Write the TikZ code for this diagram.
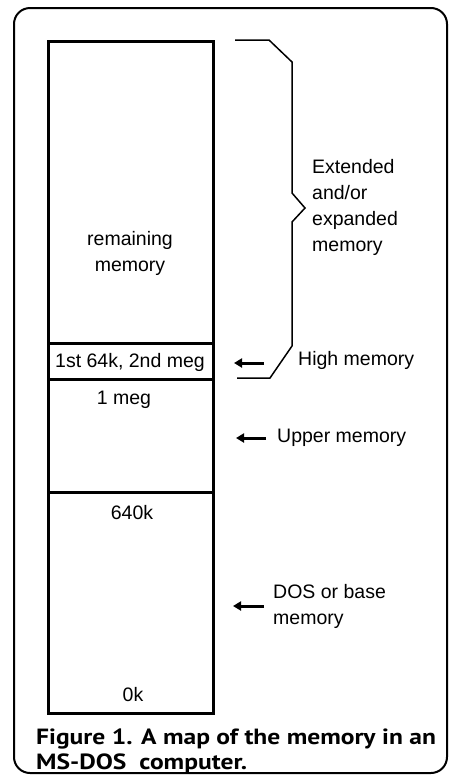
\documentclass[tikz,border=0pt]{standalone}
\usepackage{fontspec}
\setmainfont{Liberation Sans}
\newfontfamily\capfont{PT Sans}
\usetikzlibrary{arrows.meta}
\begin{document}
\begin{tikzpicture}[x=1pt,y=-1pt,
  lbl/.style={font=\fontsize{19.5}{26}\selectfont, inner sep=0pt},
  rlbl/.style={lbl, anchor=west, align=left},
  memline/.style={line width=3pt},
  brace/.style={line width=1.5pt, line join=miter},
  ptr/.style={line width=3pt, -{Triangle[length=8pt,width=9pt]}}]
\useasboundingbox (0,0) rectangle (449,777);
\draw[line width=2pt, rounded corners=16pt] (14,8) rectangle (447,773);
% memory column
\draw[memline] (48,41) rectangle (213,713);
\draw[memline] (48,343) -- (213,343);
\draw[memline] (48,379) -- (213,379);
\draw[memline] (48,492) -- (213,492);
% texts in column
\node[lbl, align=center] (rem) at (130,253) {remaining\\memory};
\node[lbl] (hm) at (130,362) {1st 64k, 2nd meg};
\node[lbl] (meg) at (124,400) {1 meg};
\node[lbl] (k640) at (132,513) {640k};
\node[lbl] (k0) at (133,695) {0k};
% brace
\draw[brace] (235,40) -- (269,40) -- (292,62) -- (292,193) -- (305,208) -- (292,222) -- (292,346) -- (270,378) -- (237,378);
% right labels
\node[rlbl] (ext) at (312,207) {Extended\\and/or\\expanded\\memory};
\node[rlbl] (high) at (298,360) {High memory};
\node[rlbl] (upper) at (277,438) {Upper memory};
\node[rlbl] (dos) at (273,606) {DOS or base\\memory};
% arrows
\coordinate (a1s) at (264,363); \coordinate (a1e) at (234,363);
\coordinate (a2s) at (266,438); \coordinate (a2e) at (236,438);
\coordinate (a3s) at (264,606); \coordinate (a3e) at (233,606);
\draw[ptr] (a1s) -- (a1e);
\draw[ptr] (a2s) -- (a2e);
\draw[ptr] (a3s) -- (a3e);
% caption
\node[anchor=north west, inner sep=0pt] (cap) at (36,727) {\scalebox{1.16}[1]{\capfont\bfseries\fontsize{22}{25}\selectfont\begin{tabular}{@{}l@{}}Figure 1. A map of the memory in an\\MS-DOS\ \ computer.\end{tabular}}};
\end{tikzpicture}
\end{document}
